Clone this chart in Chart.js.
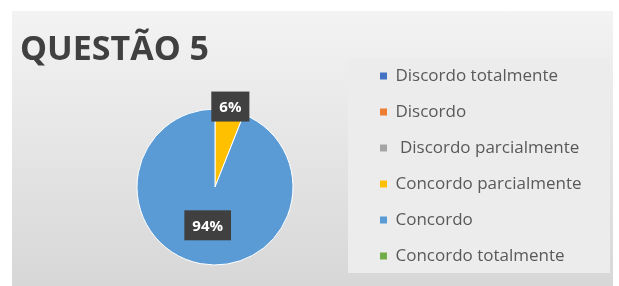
<!DOCTYPE html>
<html>
<head>
<meta charset="utf-8">
<script src="https://cdn.jsdelivr.net/npm/chart.js@4.4.0/dist/chart.umd.min.js"></script>
<style>
    html, body { margin: 0; padding: 0; background: #ffffff; }
    #frame {
        position: absolute; left: 12px; top: 11px; width: 601px; height: 275px;
        background: linear-gradient(#f3f3f3, #d7d7d7);
    }
    #panel {
        position: absolute; left: 336px; top: 47px; width: 262px; height: 215px;
        background: #ececec;
    }
    #frame canvas { position: absolute; left: 0; top: 0; }
</style>
</head>
<body>
<div id="frame">
    <div id="panel"></div>
    <canvas id="questaoChart" width="601" height="275"></canvas>
</div>
<script>
// Data (answers as percentages)
const categories = ['Discordo totalmente', 'Discordo', ' Discordo parcialmente', 'Concordo parcialmente', 'Concordo', 'Concordo totalmente'];
const answers = [0, 0, 0, 6, 94, 0];
const sliceColors = ['#4472c4', '#ed7d31', '#a5a5a5', '#ffc000', '#5b9bd5', '#70ad47'];

Chart.defaults.font.family = "'Open Sans', sans-serif";

// Title starts at the left edge, pie keeps its own left margin
const titleToEdge = {
    id: 'titleToEdge',
    afterLayout(chart) {
        chart.titleBlock.left = 8;
    }
};

// Dark percentage boxes, like Excel data callouts
const sliceLabels = {
    id: 'sliceLabels',
    afterDatasetsDraw(chart) {
        const ctx = chart.ctx;
        const meta = chart.getDatasetMeta(0);
        const values = chart.data.datasets[0].data;
        const total = values.reduce((a, b) => a + b, 0);
        ctx.save();
        ctx.font = "bold 15px 'Open Sans'";
        ctx.textAlign = 'center';
        ctx.textBaseline = 'middle';
        meta.data.forEach((arc, i) => {
            if (!values[i]) return;
            const pct = Math.round(values[i] / total * 100);
            const p = arc.getProps(['x', 'y', 'startAngle', 'endAngle', 'outerRadius'], true);
            const mid = (p.startAngle + p.endAngle) / 2;
            const dist = p.outerRadius * (pct < 10 ? 1.05 : 0.5);
            const x = p.x + Math.cos(mid) * dist;
            const y = p.y + Math.sin(mid) * dist;
            const text = pct + '%';
            const w = ctx.measureText(text).width + 16;
            const h = 30;
            ctx.fillStyle = '#404040';
            ctx.fillRect(x - w / 2, y - h / 2, w, h);
            ctx.fillStyle = '#ffffff';
            ctx.fillText(text, x, y + 1);
        });
        ctx.restore();
    }
};

const questaoChart = new Chart(document.getElementById('questaoChart'), {
    type: 'pie',
    data: {
        labels: categories,
        datasets: [{
            data: answers,
            backgroundColor: sliceColors,
            borderColor: '#ffffff',
            borderWidth: 1,
            hoverOffset: 0,
            radius: 78
        }]
    },
    options: {
        responsive: false,
        animation: false,
        layout: {
            padding: { left: 57, top: 0, right: 21.5, bottom: 2.5 }
        },
        plugins: {
            title: {
                display: true,
                text: 'QUESTÃO 5',
                align: 'start',
                color: '#404040',
                font: { size: 34, weight: 'bold' },
                padding: { top: 18.5, bottom: 20.2 }
            },
            legend: {
                position: 'right',
                align: 'end',
                labels: {
                    boxWidth: 7,
                    boxHeight: 7,
                    padding: 19,
                    color: '#595959',
                    font: { size: 17 },
                    generateLabels(chart) {
                        const items = Chart.overrides.pie.plugins.legend.labels.generateLabels(chart);
                        items.forEach(item => { item.lineWidth = 0; });
                        return items;
                    }
                }
            },
            tooltip: { enabled: false }
        }
    },
    plugins: [titleToEdge, sliceLabels]
});
</script>
</body>
</html>
